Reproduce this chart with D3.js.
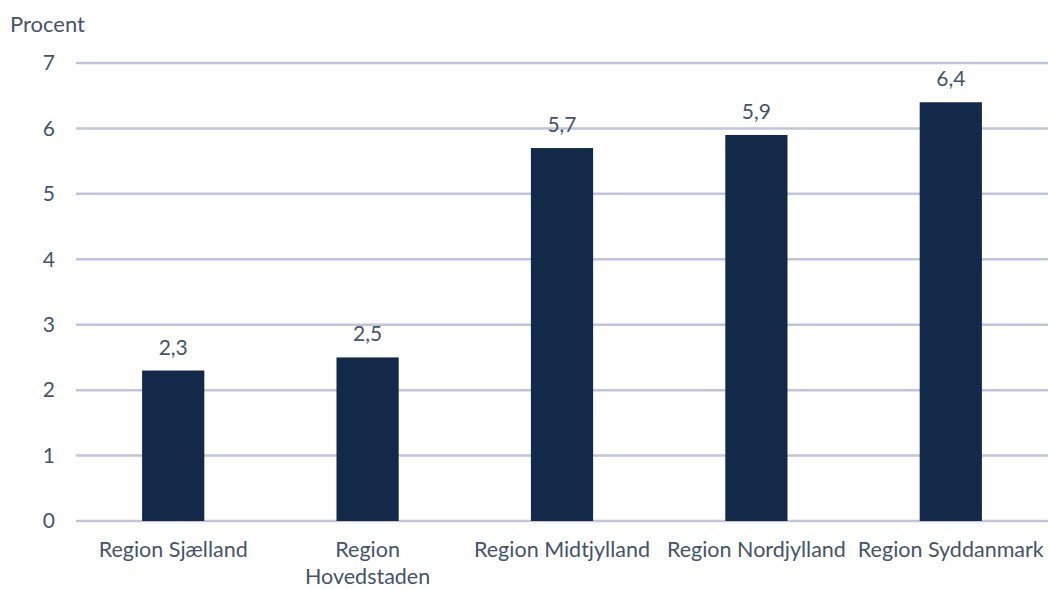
<!DOCTYPE html>
<html>
<head>
<meta charset="utf-8">
<script src="https://cdn.jsdelivr.net/npm/d3@7"></script>
<style>
  body { margin: 0; background: #fff; }
  text { font-family: Lato, "Open Sans", sans-serif; fill: #44546A; }
</style>
</head>
<body>
<div id="chart"></div>
<script>
var regions = ['Region Sjælland', 'Region Hovedstaden', 'Region Midtjylland', 'Region Nordjylland', 'Region Syddanmark'];
var labelLines = [['Region Sjælland'], ['Region', 'Hovedstaden'], ['Region Midtjylland'], ['Region Nordjylland'], ['Region Syddanmark']];
var values = [2.3, 2.5, 5.7, 5.9, 6.4];
var yTicks = [0, 1, 2, 3, 4, 5, 6, 7];

var width = 1051, height = 589;
var plotLeft = 76, plotRight = 1048, plotTop = 63, plotBottom = 521;

var svg = d3.select('#chart').append('svg')
  .attr('width', width)
  .attr('height', height);

var x = d3.scaleBand()
  .domain(regions)
  .range([plotLeft, plotRight])
  .paddingInner(0.68)
  .paddingOuter(0.34);

var y = d3.scaleLinear()
  .domain([0, 7])
  .range([plotBottom, plotTop]);

// gridlines
svg.append('g')
  .selectAll('line')
  .data(yTicks)
  .enter()
  .append('line')
  .attr('x1', plotLeft)
  .attr('x2', plotRight)
  .attr('y1', function(d) { return y(d); })
  .attr('y2', function(d) { return y(d); })
  .attr('stroke', '#BFC5DA')
  .attr('stroke-width', 2.5);

// y labels
var yAxis = d3.axisLeft(y).tickValues(yTicks).tickFormat(d3.format('d')).tickSize(0).tickPadding(0);
var gy = svg.append('g')
  .attr('transform', 'translate(55,0)')
  .call(yAxis);
gy.select('.domain').remove();
gy.selectAll('text')
  .style('font-size', '21px')
  .style('font-family', 'Lato, sans-serif')
  .attr('fill', '#44546A');

svg.append('text')
  .attr('x', 10)
  .attr('y', 32)
  .style('font-size', '22px')
  .text('Procent');

// bars
svg.append('g')
  .selectAll('rect')
  .data(values)
  .enter()
  .append('rect')
  .attr('x', function(d, i) { return x(regions[i]); })
  .attr('y', function(d) { return y(d); })
  .attr('width', x.bandwidth())
  .attr('height', function(d) { return y(0) - y(d); })
  .attr('fill', '#12294A');

// value labels
svg.append('g')
  .selectAll('text')
  .data(values)
  .enter()
  .append('text')
  .attr('x', function(d, i) { return x(regions[i]) + x.bandwidth() / 2; })
  .attr('y', function(d) { return y(d) - 16; })
  .attr('text-anchor', 'middle')
  .style('font-size', '21px')
  .text(function(d) { return d.toFixed(1).replace('.', ','); });

// category labels
var cat = svg.append('g')
  .selectAll('text')
  .data(regions)
  .enter()
  .append('text')
  .attr('x', function(d) { return x(d) + x.bandwidth() / 2; })
  .attr('y', 557)
  .attr('text-anchor', 'middle')
  .style('font-size', '21.5px');

cat.selectAll('tspan')
  .data(function(d, i) { return labelLines[i]; })
  .enter()
  .append('tspan')
  .attr('x', function() { return d3.select(this.parentNode).attr('x'); })
  .attr('dy', function(d, i) { return i === 0 ? 0 : 27; })
  .text(function(d) { return d; });
</script>
</body>
</html>
